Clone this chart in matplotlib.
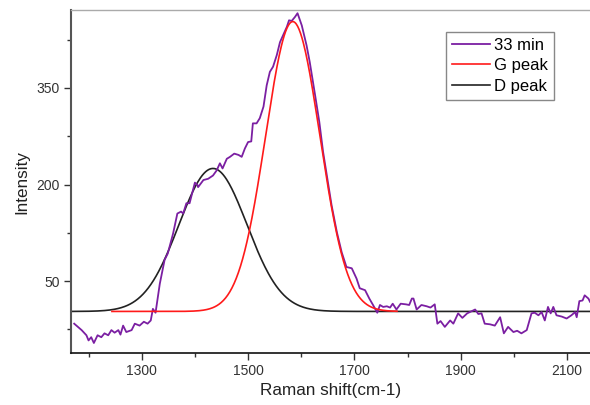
import numpy as np
import matplotlib
matplotlib.use("Agg")
import matplotlib.pyplot as plt

plt.rcParams['font.family'] = ['Liberation Sans', 'DejaVu Sans']

# Measured spectrum (33 min)
shift = [1173, 1187, 1196, 1200, 1205, 1210, 1217, 1224, 1230, 1237, 1243, 1249,
         1256, 1260, 1265, 1271, 1281, 1287, 1296, 1304, 1311, 1317, 1321, 1326,
         1334, 1343, 1349, 1359, 1367, 1374, 1378, 1384, 1390, 1400, 1405, 1406,
         1416, 1425, 1434, 1441, 1447, 1452, 1460, 1466, 1474, 1482, 1488, 1494,
         1500, 1506, 1509, 1516, 1522, 1529, 1535, 1541, 1547, 1554, 1560, 1566,
         1573, 1577, 1582, 1588, 1593, 1601, 1610, 1616, 1626, 1634, 1641, 1649,
         1657, 1667, 1676, 1685, 1695, 1704, 1710, 1720, 1728, 1735, 1743, 1748,
         1754, 1761, 1767, 1772, 1779, 1787, 1797, 1803, 1808, 1811, 1817, 1826,
         1836, 1843, 1851, 1856, 1862, 1870, 1880, 1886, 1895, 1903, 1912, 1917,
         1927, 1933, 1939, 1945, 1955, 1964, 1974, 1981, 1989, 1999, 2006, 2014,
         2024, 2033, 2039, 2046, 2052, 2058, 2064, 2069, 2074, 2080, 2090, 2099,
         2108, 2115, 2118, 2123, 2129, 2133, 2140, 2143]
intensity = [-16, -26, -34, -42, -37, -46, -34, -37, -31, -34, -26, -30,
             -26, -33, -19, -29, -26, -16, -19, -13, -16, -11, 7, 1,
             46, 83, 93, 124, 155, 158, 155, 171, 171, 203, 199, 196,
             207, 209, 214, 222, 233, 225, 240, 243, 248, 246, 243, 256,
             266, 267, 295, 295, 303, 321, 354, 375, 383, 401, 421, 432,
             445, 455, 454, 460, 466, 447, 416, 390, 339, 297, 251, 209,
             168, 126, 95, 72, 70, 54, 39, 36, 23, 13, 1, 13,
             10, 11, 9, 15, 6, 15, 14, 13, 23, 23, 6, 13,
             11, 9, 14, -16, -12, -21, -11, -16, 0, -7, 0, 2,
             6, -1, 0, -16, -17, -19, -6, -31, -21, -29, -27, -31,
             -26, 0, 1, -3, 2, -11, 10, 0, 10, -3, -5, -8,
             -3, 2, -6, 19, 20, 28, 23, 18]

# Fitted Gaussian peaks (baseline, centre, height, sigma)
baseline = 3
g_center, g_height, g_sigma = 1584, 450, 51
d_center, d_height, d_sigma = 1434, 222, 64
g_range = (1244, 1780)
d_range = (1170, 2150)

xt_major = [1300, 1500, 1700, 1900, 2100]
yt_major = [50, 200, 350]

fig = plt.figure(figsize=(5.9, 4.05), dpi=100)
ax = fig.add_axes([71/590, 1-353.3/405, 1-71/590, (353.3-10)/405])

xg = np.linspace(*g_range, 400)
yg = baseline + g_height*np.exp(-0.5*((xg-g_center)/g_sigma)**2)
xd = np.linspace(*d_range, 600)
yd = baseline + d_height*np.exp(-0.5*((xd-d_center)/d_sigma)**2)

ax.plot(shift, intensity, color='#7b1fa2', lw=1.3, label='33 min', zorder=2)
ax.plot(xg, yg, color='#ff1a1a', lw=1.2, label='G peak', zorder=3)
ax.plot(xd, yd, color='#222222', lw=1.2, label='D peak', zorder=1)

ax.set_xlim(1167, 2143)
ax.set_ylim(-62, 471)
ax.set_xticks(xt_major)
ax.set_xticks([1200, 1400, 1600, 1800, 2000], minor=True)
ax.set_yticks(yt_major)
ax.set_yticks([-25, 125, 275, 425], minor=True)
ax.tick_params(axis='both', which='major', direction='out', length=5, width=1,
               labelsize=10, pad=3, colors='#333333')
ax.tick_params(axis='both', which='minor', direction='out', length=3, width=1,
               colors='#333333')
for lab in ax.get_xticklabels() + ax.get_yticklabels():
    lab.set_color('#333333')

ax.spines['left'].set_color('#555555')
ax.spines['left'].set_linewidth(1.5)
ax.spines['bottom'].set_color('#111111')
ax.spines['bottom'].set_linewidth(1.2)
ax.spines['top'].set_color('#aaaaaa')
ax.spines['top'].set_linewidth(1.0)
ax.spines['right'].set_visible(False)

ax.set_xlabel('Raman shift(cm-1)', fontsize=12.3, color='#222222', labelpad=3)
ax.set_ylabel('Intensity', fontsize=12.3, color='#222222', labelpad=5)

leg = ax.legend(loc='upper left', bbox_to_anchor=(446/590, 1-32/405),
                bbox_transform=fig.transFigure, borderaxespad=0,
                fontsize=12, handlelength=2.25, handletextpad=0.25,
                labelspacing=0.32, borderpad=0.36, fancybox=False,
                framealpha=1, edgecolor='#888888')
leg.get_frame().set_linewidth(1.0)

fig.savefig('out.png', dpi=100)
